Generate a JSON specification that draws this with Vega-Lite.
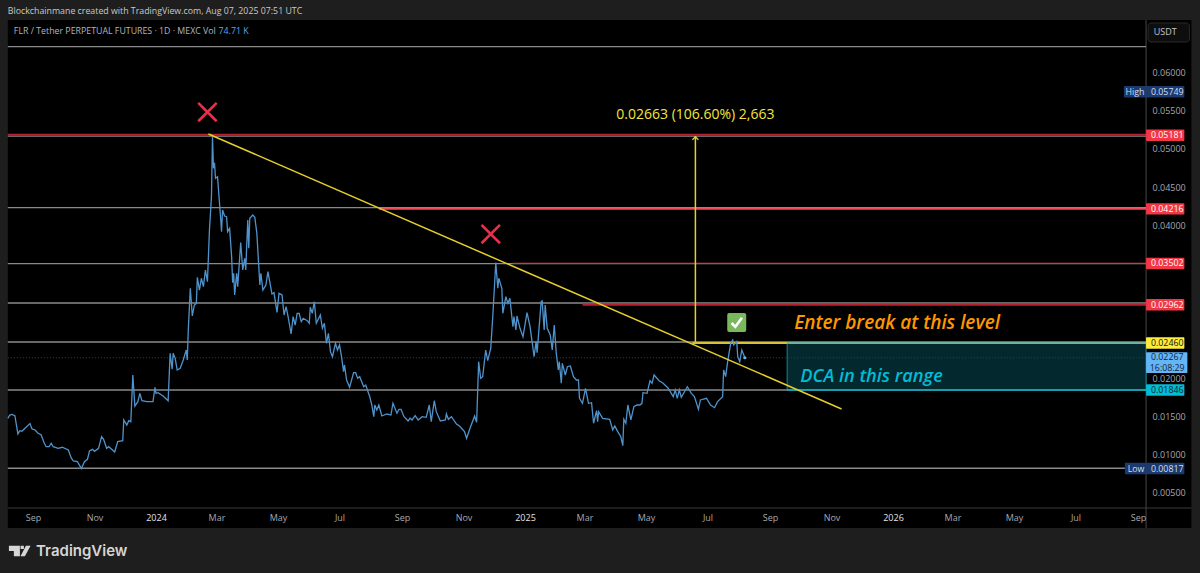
{"$schema":"https://vega.github.io/schema/vega-lite/v6.json",
"width":1200,"height":573,"padding":0,"autosize":{"type":"none"},
"background":"#1e1e1e",
"config":{"view":{"stroke":null},"font":"Open Sans","text":{"font":"Open Sans"}},
"datasets":{
"prices":[
{"date":"2023-08-07","price":0.01475},{"date":"2023-08-09","price":0.01518},{"date":"2023-08-11","price":0.01527},{"date":"2023-08-14","price":0.01509},{"date":"2023-08-17","price":0.0127},{"date":"2023-08-19","price":0.01313},{"date":"2023-08-21","price":0.01305},{"date":"2023-08-24","price":0.01344},{"date":"2023-08-29","price":0.01405},{"date":"2023-08-31","price":0.01335},
{"date":"2023-09-03","price":0.01322},{"date":"2023-09-06","price":0.01279},{"date":"2023-09-09","price":0.0126},{"date":"2023-09-12","price":0.01156},{"date":"2023-09-14","price":0.01103},{"date":"2023-09-17","price":0.01103},{"date":"2023-09-19","price":0.01148},{"date":"2023-09-21","price":0.01103},{"date":"2023-09-26","price":0.01082},{"date":"2023-09-30","price":0.01096},
{"date":"2023-10-06","price":0.0106},{"date":"2023-10-09","price":0.00952},{"date":"2023-10-11","price":0.00916},{"date":"2023-10-15","price":0.00907},{"date":"2023-10-19","price":0.00817},{"date":"2023-10-22","price":0.00907},{"date":"2023-10-25","price":0.00938},{"date":"2023-10-27","price":0.01047},{"date":"2023-10-30","price":0.01069},
{"date":"2023-11-01","price":0.01043},{"date":"2023-11-05","price":0.01082},{"date":"2023-11-08","price":0.01234},{"date":"2023-11-10","price":0.012},{"date":"2023-11-13","price":0.01082},{"date":"2023-11-15","price":0.01103},{"date":"2023-11-18","price":0.01069},{"date":"2023-11-21","price":0.01034},{"date":"2023-11-24","price":0.01169},{"date":"2023-11-29","price":0.01182},{"date":"2023-11-30","price":0.01453},
{"date":"2023-12-03","price":0.01387},{"date":"2023-12-05","price":0.01444},{"date":"2023-12-07","price":0.01431},{"date":"2023-12-09","price":0.02042},{"date":"2023-12-11","price":0.01636},{"date":"2023-12-14","price":0.01693},{"date":"2023-12-16","price":0.01802},{"date":"2023-12-18","price":0.01705},{"date":"2023-12-23","price":0.01693},{"date":"2023-12-29","price":0.01693},{"date":"2023-12-31","price":0.01881},
{"date":"2024-01-01","price":0.01802},{"date":"2024-01-03","price":0.0181},{"date":"2024-01-08","price":0.01767},{"date":"2024-01-13","price":0.01705},{"date":"2024-01-15","price":0.02326},{"date":"2024-01-17","price":0.02117},{"date":"2024-01-18","price":0.02326},{"date":"2024-01-20","price":0.0226},{"date":"2024-01-22","price":0.02107},{"date":"2024-01-25","price":0.0213},{"date":"2024-01-28","price":0.02238},{"date":"2024-01-31","price":0.02369},
{"date":"2024-02-01","price":0.02238},{"date":"2024-02-02","price":0.02631},{"date":"2024-02-04","price":0.03177},{"date":"2024-02-06","price":0.02814},{"date":"2024-02-08","price":0.02958},{"date":"2024-02-10","price":0.0298},{"date":"2024-02-11","price":0.03321},{"date":"2024-02-13","price":0.03154},{"date":"2024-02-15","price":0.03308},{"date":"2024-02-17","price":0.03198},{"date":"2024-02-19","price":0.03416},{"date":"2024-02-21","price":0.03263},{"date":"2024-02-23","price":0.0394},{"date":"2024-02-25","price":0.04376},{"date":"2024-02-26","price":0.05161},{"date":"2024-02-27","price":0.04747},{"date":"2024-02-28","price":0.04821},{"date":"2024-02-29","price":0.04616},
{"date":"2024-03-02","price":0.04637},{"date":"2024-03-05","price":0.04114},{"date":"2024-03-06","price":0.03918},{"date":"2024-03-07","price":0.04202},{"date":"2024-03-09","price":0.04123},{"date":"2024-03-11","price":0.04114},{"date":"2024-03-12","price":0.03918},{"date":"2024-03-14","price":0.03962},{"date":"2024-03-16","price":0.0359},{"date":"2024-03-17","price":0.0325},{"date":"2024-03-18","price":0.03373},{"date":"2024-03-19","price":0.03089},{"date":"2024-03-21","price":0.03373},{"date":"2024-03-22","price":0.03198},{"date":"2024-03-25","price":0.03774},{"date":"2024-03-27","price":0.03416},{"date":"2024-03-29","price":0.03569},{"date":"2024-03-30","price":0.03416},
{"date":"2024-04-01","price":0.04071},{"date":"2024-04-02","price":0.037},{"date":"2024-04-03","price":0.04093},{"date":"2024-04-06","price":0.04136},{"date":"2024-04-08","price":0.04106},{"date":"2024-04-10","price":0.03897},{"date":"2024-04-13","price":0.0322},{"date":"2024-04-14","price":0.03373},{"date":"2024-04-16","price":0.03154},{"date":"2024-04-19","price":0.0322},{"date":"2024-04-21","price":0.03394},{"date":"2024-04-25","price":0.03102},{"date":"2024-04-27","price":0.03119},{"date":"2024-04-30","price":0.02862},
{"date":"2024-05-02","price":0.03111},{"date":"2024-05-05","price":0.03089},{"date":"2024-05-07","price":0.02827},{"date":"2024-05-09","price":0.02936},{"date":"2024-05-11","price":0.02805},{"date":"2024-05-14","price":0.02579},{"date":"2024-05-16","price":0.02805},{"date":"2024-05-18","price":0.02696},{"date":"2024-05-20","price":0.02849},{"date":"2024-05-22","price":0.02849},{"date":"2024-05-24","price":0.0274},{"date":"2024-05-26","price":0.02784},{"date":"2024-05-30","price":0.02753},
{"date":"2024-06-01","price":0.02719},{"date":"2024-06-02","price":0.02928},{"date":"2024-06-04","price":0.02849},{"date":"2024-06-06","price":0.03001},{"date":"2024-06-08","price":0.02719},{"date":"2024-06-12","price":0.02827},{"date":"2024-06-14","price":0.02653},{"date":"2024-06-16","price":0.02719},{"date":"2024-06-18","price":0.02457},{"date":"2024-06-20","price":0.02588},{"date":"2024-06-22","price":0.02347},{"date":"2024-06-24","price":0.02281},{"date":"2024-06-27","price":0.02457},{"date":"2024-06-29","price":0.02369},
{"date":"2024-07-01","price":0.02435},{"date":"2024-07-03","price":0.02281},{"date":"2024-07-05","price":0.02085},{"date":"2024-07-06","price":0.02173},{"date":"2024-07-08","price":0.01976},{"date":"2024-07-11","price":0.01881},{"date":"2024-07-15","price":0.02072},{"date":"2024-07-17","price":0.02072},{"date":"2024-07-19","price":0.01999},{"date":"2024-07-21","price":0.0202},{"date":"2024-07-25","price":0.01889},{"date":"2024-07-27","price":0.01911},{"date":"2024-07-31","price":0.01758},
{"date":"2024-08-02","price":0.01649},{"date":"2024-08-04","price":0.01496},{"date":"2024-08-05","price":0.01649},{"date":"2024-08-07","price":0.01584},{"date":"2024-08-09","price":0.01649},{"date":"2024-08-12","price":0.01505},{"date":"2024-08-17","price":0.01531},{"date":"2024-08-21","price":0.01518},{"date":"2024-08-23","price":0.01671},{"date":"2024-08-27","price":0.01541},{"date":"2024-08-29","price":0.01593},{"date":"2024-08-31","price":0.01593},
{"date":"2024-09-03","price":0.01496},{"date":"2024-09-07","price":0.0144},{"date":"2024-09-09","price":0.01475},{"date":"2024-09-11","price":0.01453},{"date":"2024-09-14","price":0.01509},{"date":"2024-09-17","price":0.01453},{"date":"2024-09-21","price":0.01496},{"date":"2024-09-25","price":0.01488},{"date":"2024-09-28","price":0.01649},{"date":"2024-09-30","price":0.01431},
{"date":"2024-10-03","price":0.01705},{"date":"2024-10-05","price":0.01562},{"date":"2024-10-09","price":0.0144},{"date":"2024-10-14","price":0.01453},{"date":"2024-10-15","price":0.01531},{"date":"2024-10-17","price":0.01462},{"date":"2024-10-20","price":0.01496},{"date":"2024-10-25","price":0.014},{"date":"2024-10-28","price":0.01374},{"date":"2024-10-30","price":0.01344},
{"date":"2024-11-02","price":0.013},{"date":"2024-11-04","price":0.01213},{"date":"2024-11-08","price":0.01365},{"date":"2024-11-12","price":0.01505},{"date":"2024-11-14","price":0.01423},{"date":"2024-11-16","price":0.02216},{"date":"2024-11-18","price":0.01999},{"date":"2024-11-20","price":0.0202},{"date":"2024-11-23","price":0.02369},{"date":"2024-11-25","price":0.02229},{"date":"2024-11-28","price":0.02391},{"date":"2024-11-30","price":0.02805},
{"date":"2024-12-03","price":0.03512},{"date":"2024-12-05","price":0.03177},{"date":"2024-12-06","price":0.03308},{"date":"2024-12-09","price":0.03177},{"date":"2024-12-10","price":0.02849},{"date":"2024-12-13","price":0.03067},{"date":"2024-12-15","price":0.0298},{"date":"2024-12-17","price":0.03046},{"date":"2024-12-20","price":0.02674},{"date":"2024-12-21","price":0.02805},{"date":"2024-12-23","price":0.02631},{"date":"2024-12-24","price":0.02814},{"date":"2024-12-27","price":0.02653},{"date":"2024-12-30","price":0.02543},
{"date":"2025-01-03","price":0.02857},{"date":"2025-01-06","price":0.02674},{"date":"2025-01-10","price":0.02281},{"date":"2025-01-12","price":0.02478},{"date":"2025-01-13","price":0.02334},{"date":"2025-01-17","price":0.03001},{"date":"2025-01-18","price":0.0301},{"date":"2025-01-20","price":0.02631},{"date":"2025-01-21","price":0.02958},{"date":"2025-01-23","price":0.02653},{"date":"2025-01-26","price":0.02565},{"date":"2025-01-28","price":0.02369},{"date":"2025-01-30","price":0.02696},
{"date":"2025-02-01","price":0.02326},{"date":"2025-02-03","price":0.02107},{"date":"2025-02-04","price":0.02216},{"date":"2025-02-06","price":0.01933},{"date":"2025-02-07","price":0.02195},{"date":"2025-02-10","price":0.02042},{"date":"2025-02-12","price":0.0215},{"date":"2025-02-15","price":0.0216},{"date":"2025-02-18","price":0.0202},{"date":"2025-02-21","price":0.01976},{"date":"2025-02-23","price":0.01976},{"date":"2025-02-24","price":0.01737},{"date":"2025-02-27","price":0.01671},
{"date":"2025-03-02","price":0.01868},{"date":"2025-03-05","price":0.01671},{"date":"2025-03-08","price":0.01679},{"date":"2025-03-10","price":0.0141},{"date":"2025-03-13","price":0.01575},{"date":"2025-03-14","price":0.01431},{"date":"2025-03-15","price":0.01562},{"date":"2025-03-19","price":0.01475},{"date":"2025-03-26","price":0.01462},{"date":"2025-03-29","price":0.01322},{"date":"2025-03-31","price":0.01374},
{"date":"2025-04-03","price":0.013},{"date":"2025-04-06","price":0.01234},{"date":"2025-04-08","price":0.01117},{"date":"2025-04-09","price":0.01462},{"date":"2025-04-11","price":0.0141},{"date":"2025-04-13","price":0.01649},{"date":"2025-04-16","price":0.01453},{"date":"2025-04-19","price":0.01627},{"date":"2025-04-22","price":0.01649},{"date":"2025-04-25","price":0.01649},{"date":"2025-04-27","price":0.01671},{"date":"2025-04-28","price":0.0181},
{"date":"2025-05-02","price":0.01802},{"date":"2025-05-05","price":0.01967},{"date":"2025-05-07","price":0.01933},{"date":"2025-05-09","price":0.02042},{"date":"2025-05-14","price":0.01967},{"date":"2025-05-18","price":0.01933},{"date":"2025-05-23","price":0.01868},{"date":"2025-05-28","price":0.01758},{"date":"2025-05-30","price":0.01846},
{"date":"2025-06-01","price":0.01737},{"date":"2025-06-03","price":0.01846},{"date":"2025-06-05","price":0.0175},{"date":"2025-06-11","price":0.01889},{"date":"2025-06-15","price":0.01802},{"date":"2025-06-18","price":0.01758},{"date":"2025-06-22","price":0.01593},{"date":"2025-06-24","price":0.01715},{"date":"2025-06-30","price":0.01737},
{"date":"2025-07-04","price":0.01649},{"date":"2025-07-08","price":0.01614},{"date":"2025-07-11","price":0.01693},{"date":"2025-07-16","price":0.01758},{"date":"2025-07-17","price":0.02107},{"date":"2025-07-19","price":0.0202},{"date":"2025-07-21","price":0.02216},{"date":"2025-07-24","price":0.02457},{"date":"2025-07-26","price":0.025},{"date":"2025-07-27","price":0.02435},{"date":"2025-07-30","price":0.02478},{"date":"2025-07-31","price":0.02281},
{"date":"2025-08-02","price":0.02216},{"date":"2025-08-04","price":0.02369},{"date":"2025-08-06","price":0.02304},{"date":"2025-08-07","price":0.02268}
],
"grayLevels":[
{"price":0.0634,"date":"2023-08-07","date2":"2026-09-09"},{"price":0.05168,"date":"2023-08-07","date2":"2026-09-09"},{"price":0.04232,"date":"2023-08-07","date2":"2026-09-09"},{"price":0.03499,"date":"2023-08-07","date2":"2026-09-09"},{"price":0.02984,"date":"2023-08-07","date2":"2026-09-09"},{"price":0.02474,"date":"2023-08-07","date2":"2026-09-09"},{"price":0.01846,"date":"2023-08-07","date2":"2026-09-09"},{"price":0.00821,"date":"2023-08-07","date2":"2026-08-19"}
],
"badges":[
{"kind":"resistance","lo":0.05106,"hi":0.05256,"date":"2026-09-09","date2":"2026-10-17"},
{"kind":"resistance","lo":0.04141,"hi":0.04291,"date":"2026-09-09","date2":"2026-10-17"},
{"kind":"resistance","lo":0.03427,"hi":0.03577,"date":"2026-09-09","date2":"2026-10-17"},
{"kind":"resistance","lo":0.02887,"hi":0.03037,"date":"2026-09-09","date2":"2026-10-17"},
{"kind":"entry","lo":0.02385,"hi":0.02535,"date":"2026-09-09","date2":"2026-10-17"},
{"kind":"last","lo":0.02068,"hi":0.02339,"date":"2026-09-09","date2":"2026-10-20"},
{"kind":"support","lo":0.01771,"hi":0.01921,"date":"2026-09-09","date2":"2026-10-17"},
{"kind":"extreme","lo":0.05674,"hi":0.05824,"date":"2026-08-18","date2":"2026-10-17"},
{"kind":"extreme","lo":0.00742,"hi":0.00892,"date":"2026-08-19","date2":"2026-10-17"}
],
"badgeText":[
{"kind":"resistance","label":"0.05181","price":0.05181,"date":"2026-09-30"},
{"kind":"resistance","label":"0.04216","price":0.04216,"date":"2026-09-30"},
{"kind":"resistance","label":"0.03502","price":0.03502,"date":"2026-09-30"},
{"kind":"resistance","label":"0.02962","price":0.02962,"date":"2026-09-30"},
{"kind":"entry","label":"0.02460","price":0.0246,"date":"2026-09-30"},
{"kind":"last","label":"0.02267","price":0.02275,"date":"2026-09-30"},
{"kind":"last","label":"16:08:29","price":0.02127,"date":"2026-09-30"},
{"kind":"support","label":"0.01846","price":0.01846,"date":"2026-09-30"},
{"kind":"extreme","label":"0.05749","price":0.05749,"date":"2026-09-30"},
{"kind":"extreme","label":"0.00817","price":0.00817,"date":"2026-09-30"},
{"kind":"extreme","label":"High","price":0.05749,"date":"2026-08-29"},
{"kind":"extreme","label":"Low","price":0.00817,"date":"2026-08-30"}
]
},
"encoding":{
"x":{"field":"date","type":"temporal","title":null,
"scale":{"type":"utc","nice":false,"domain":[{"year":2023,"month":7,"date":30,"hours":6,"utc":true},{"year":2026,"month":11,"date":1,"hours":12,"utc":true}]},
"axis":{"orient":"bottom","offset":-65,"zindex":1,"domain":false,"ticks":false,"grid":false,"labelPadding":5,"labelFontSize":9,"labelFont":"Open Sans","labelBound":false,"labelFlush":false,"labelOverlap":false,
"labelColor":{"condition":{"test":"utcmonth(datum.value)==0","value":"#e3e3e3"},"value":"#a5a8b0"},
"labelExpr":"utcmonth(datum.value)==0 ? utcFormat(datum.value,'%Y') : utcFormat(datum.value,'%b')",
"values":[{"year":2023,"month":9,"date":1,"utc":true},{"year":2023,"month":11,"date":1,"utc":true},{"year":2024,"month":1,"date":1,"utc":true},{"year":2024,"month":3,"date":1,"utc":true},{"year":2024,"month":5,"date":1,"utc":true},{"year":2024,"month":7,"date":1,"utc":true},{"year":2024,"month":9,"date":1,"utc":true},{"year":2024,"month":11,"date":1,"utc":true},{"year":2025,"month":1,"date":1,"utc":true},{"year":2025,"month":3,"date":1,"utc":true},{"year":2025,"month":5,"date":1,"utc":true},{"year":2025,"month":7,"date":1,"utc":true},{"year":2025,"month":9,"date":1,"utc":true},{"year":2025,"month":11,"date":1,"utc":true},{"year":2026,"month":1,"date":1,"utc":true},{"year":2026,"month":3,"date":1,"utc":true},{"year":2026,"month":5,"date":1,"utc":true},{"year":2026,"month":7,"date":1,"utc":true},{"year":2026,"month":9,"date":1,"utc":true}]}},
"y":{"field":"price","type":"quantitative","title":null,
"scale":{"nice":false,"zero":false,"domain":[-0.0055,0.069503]},
"axis":{"orient":"right","offset":-54,"zindex":1,"domain":false,"ticks":false,"grid":false,"labelPadding":6,"labelFontSize":9,"labelFont":"Open Sans","labelColor":"#a5a8b0","format":".5f","labelBound":false,"labelFlush":false,"labelOverlap":false,
"values":[0.06,0.055,0.05,0.045,0.04,0.02,0.015,0.01,0.005]}}
},
"layer":[
{"data":{"values":[{"date":"2023-08-07","date2":"2026-10-24","price":0.00039,"price2":0.06689}]},
"mark":{"type":"rect","fill":"#000000"},
"encoding":{"x2":{"field":"date2"},"y2":{"field":"price2"}}},
{"data":{"values":[{"date":"2026-09-09","price":0.00039,"price2":0.06689}]},
"mark":{"type":"rule","stroke":"#474747","strokeWidth":1},
"encoding":{"y2":{"field":"price2"}}},
{"data":{"values":[{"date":"2023-08-07","date2":"2026-10-24","price":0.00301}]},
"mark":{"type":"rule","stroke":"#3a3a3a","strokeWidth":1},
"encoding":{"x2":{"field":"date2"}}},
{"data":{"values":[{"date":"2025-09-18","date2":"2026-09-09","price":0.0246,"price2":0.01846}]},
"mark":{"type":"rect","fill":"#03292f","stroke":"#0f8a9a","strokeWidth":1},
"encoding":{"x2":{"field":"date2"},"y2":{"field":"price2"}}},
{"data":{"values":[{"date":"2023-08-07","date2":"2026-09-09","price":0.02267}]},
"mark":{"type":"rule","stroke":"#24466a","strokeWidth":1,"strokeDash":[1,2]},
"encoding":{"x2":{"field":"date2"}}},
{"data":{"name":"grayLevels"},
"mark":{"type":"rule","stroke":"#8a8a8a","strokeWidth":1.4},
"encoding":{"x2":{"field":"date2"}}},
{"data":{"values":[{"date":"2023-08-07","date2":"2026-09-09","price":0.0519}]},
"mark":{"type":"rule","stroke":"#b7202f","strokeWidth":1.6},
"encoding":{"x2":{"field":"date2"}}},
{"data":{"values":[{"date":"2024-08-09","date2":"2026-09-09","price":0.04216}]},
"mark":{"type":"rule","stroke":"#ee4a58","strokeWidth":1.8},
"encoding":{"x2":{"field":"date2"}}},
{"data":{"values":[{"date":"2024-12-20","date2":"2026-09-09","price":0.03502}]},
"mark":{"type":"rule","stroke":"#e8303f","strokeWidth":1.2},
"encoding":{"x2":{"field":"date2"}}},
{"data":{"values":[{"date":"2025-02-27","date2":"2026-09-09","price":0.02962}]},
"mark":{"type":"rule","stroke":"#b7202f","strokeWidth":2.2},
"encoding":{"x2":{"field":"date2"}}},
{"data":{"values":[{"date":"2025-06-16","date2":"2025-09-18","price":0.0246}]},
"mark":{"type":"rule","stroke":"#d6c13a","strokeWidth":2},
"encoding":{"x2":{"field":"date2"}}},
{"data":{"values":[{"date":"2025-09-18","date2":"2026-09-09","price":0.0246}]},
"mark":{"type":"rule","stroke":"#6fb39d","strokeWidth":2},
"encoding":{"x2":{"field":"date2"}}},
{"data":{"values":[{"date":"2025-09-18","date2":"2026-09-09","price":0.01846}]},
"mark":{"type":"rule","stroke":"#00a9bd","strokeWidth":1.6},
"encoding":{"x2":{"field":"date2"}}},
{"data":{"name":"prices"},
"mark":{"type":"line","stroke":"#4f93cc","strokeWidth":1.3,"interpolate":"linear"}},
{"data":{"values":[{"date":"2025-08-07","price":0.02268}]},
"mark":{"type":"point","filled":true,"fill":"#64b5f6","stroke":null,"size":10,"opacity":1}},
{"data":{"values":[{"date":"2024-02-22","price":0.05196},{"date":"2025-11-11","price":0.01597}]},
"mark":{"type":"line","stroke":"#e6cf2a","strokeWidth":1.5}},
{"data":{"values":[{"date":"2025-06-19","price":0.02474,"price2":0.0517}]},
"mark":{"type":"rule","stroke":"#e6cf2a","strokeWidth":1.5},
"encoding":{"y2":{"field":"price2"}}},
{"data":{"values":[{"date":"2025-06-19","price":0.0516}]},
"mark":{"type":"point","shape":"M-1,1L0,0L1,1","filled":false,"fill":null,"stroke":"#e6cf2a","strokeWidth":1.3,"size":36,"opacity":1}},
{"data":{"values":[{"date":"2024-02-21","price":0.05484},{"date":"2024-11-28","price":0.03887}]},
"mark":{"type":"point","shape":"M-1,-1L1,1M-1,1L1,-1","filled":false,"fill":null,"stroke":"#ea2f4c","strokeWidth":2.6,"size":340,"opacity":1}},
{"data":{"values":[{"date":"2025-07-30","price":0.02729}]},
"mark":{"type":"point","shape":"M-.8,-1H.8Q1,-1 1,-.8V.8Q1,1 .8,1H-.8Q-1,1 -1,.8V-.8Q-1,-1 -.8,-1Z","filled":true,"fill":"#7ab85c","stroke":null,"size":361,"opacity":1}},
{"data":{"values":[{"date":"2025-07-30","price":0.02729}]},
"mark":{"type":"point","shape":"M-.55,.05L-.15,.45L.55,-.5","filled":false,"fill":null,"stroke":"#ffffff","strokeWidth":2.6,"size":361,"opacity":1}},
{"data":{"values":[{"date":"2025-06-19","price":0.05445,"label":"0.02663 (106.60%) 2,663"}]},
"mark":{"type":"text","align":"center","baseline":"middle","fontSize":14,"font":"Open Sans","fill":"#f4e53c"},
"encoding":{"text":{"field":"label"}}},
{"data":{"values":[{"date":"2025-09-25","price":0.02723,"label":"Enter break at this level"}]},
"mark":{"type":"text","align":"left","baseline":"middle","fontSize":19,"font":"Open Sans","fontStyle":"italic","fontWeight":600,"fill":"#ff9800"},
"encoding":{"text":{"field":"label"}}},
{"data":{"values":[{"date":"2025-10-01","price":0.02016,"label":"DCA in this range"}]},
"mark":{"type":"text","align":"left","baseline":"middle","fontSize":18.2,"font":"Open Sans","fontStyle":"italic","fontWeight":600,"fill":"#00bcd4"},
"encoding":{"text":{"field":"label"}}},
{"data":{"name":"badges"},
"mark":{"type":"rect","cornerRadius":1},
"encoding":{"x2":{"field":"date2"},"y":{"field":"lo","type":"quantitative"},"y2":{"field":"hi"},
"fill":{"field":"kind","type":"nominal","legend":null,"scale":{"domain":["resistance","entry","last","support","extreme"],"range":["#f23645","#ffeb3b","#64b5f6","#00bcd4","#1c3a6e"]}}}},
{"data":{"name":"badgeText"},
"mark":{"type":"text","align":"center","baseline":"middle","fontSize":8.8,"font":"Open Sans"},
"encoding":{"text":{"field":"label"},
"color":{"field":"kind","type":"nominal","legend":null,"scale":{"domain":["resistance","entry","last","support","extreme"],"range":["#ffffff","#111111","#10263c","#06222a","#d5deee"]}}}},
{"data":{"values":[{"date":"2026-09-11","date2":"2026-10-22","price":0.06649,"price2":0.06401}]},
"mark":{"type":"rect","fill":"#0e0e0e","stroke":"#2a2a2a","cornerRadius":3},
"encoding":{"x2":{"field":"date2"},"y2":{"field":"price2"}}},
{"data":{"values":[{"date":"2026-09-28","price":0.06525,"label":"USDT"}]},
"mark":{"type":"text","align":"center","baseline":"middle","fontSize":9,"font":"Open Sans","fill":"#c4c6cc"},
"encoding":{"text":{"field":"label"}}},
{"data":{"values":[{"date":"2023-08-07","price":0.06806,"label":"Blockchainmane created with TradingView.com, Aug 07, 2025 07:51 UTC"}]},
"mark":{"type":"text","align":"left","baseline":"middle","fontSize":8.8,"font":"Open Sans","fill":"#c9c9c9"},
"encoding":{"text":{"field":"label"}}},
{"data":{"values":[{"date":"2023-08-13","price":0.06538,"label":"FLR / Tether PERPETUAL FUTURES · 1D · MEXC Vol"}]},
"mark":{"type":"text","align":"left","baseline":"middle","fontSize":8.8,"font":"Open Sans","fill":"#b2b5be"},
"encoding":{"text":{"field":"label"}}},
{"data":{"values":[{"date":"2024-03-03","price":0.06538,"label":"74.71 K"}]},
"mark":{"type":"text","align":"left","baseline":"middle","fontSize":8.8,"font":"Open Sans","fill":"#5ba8e6"},
"encoding":{"text":{"field":"label"}}},
{"data":{"values":[{"date":"2023-08-19","price":-0.00262}]},
"mark":{"type":"point","shape":"M-1,-.48L0,-.48L0,.48L-.55,.48L-.55,0L-1,0ZM.06,-.48L.36,-.48L.36,-.18L.06,-.18ZM.55,-.48L.97,-.48L.45,.48L.05,.48Z","filled":true,"fill":"#d6d6d6","stroke":null,"size":484,"opacity":1}},
{"data":{"values":[{"date":"2023-09-04","price":-0.00262,"label":"TradingView"}]},
"mark":{"type":"text","align":"left","baseline":"middle","fontSize":15,"font":"Inter","fontWeight":600,"fill":"#d6d6d6"},
"encoding":{"text":{"field":"label"}}}
]}
